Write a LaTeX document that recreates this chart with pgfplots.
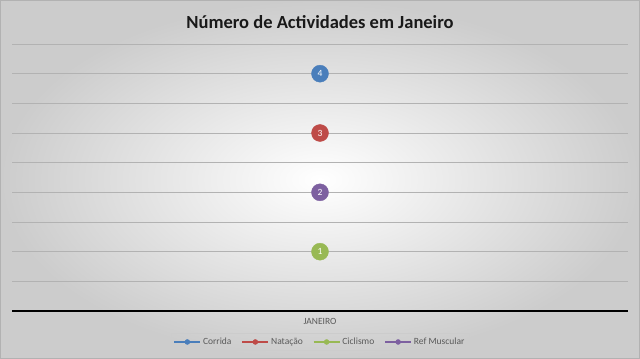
\documentclass[border=0pt]{standalone}
\usepackage{pgfplots}
\pgfplotsset{compat=1.18}
\usepackage{fontspec}
\setmainfont{Carlito}
\definecolor{cblue}{HTML}{4A7EBB}
\definecolor{cred}{HTML}{BE4B48}
\definecolor{cgreen}{HTML}{98B954}
\definecolor{cpurple}{HTML}{7D60A0}
\definecolor{txt}{HTML}{595959}
\begin{document}
\begin{tikzpicture}
\shade[inner color=white, outer color=black!20, shading=radial] (0,0) rectangle (640bp,359bp);
\draw[black!30, line width=0.8bp] (0.4bp,0.4bp) rectangle (639.6bp,358.6bp);
\node[font=\fontsize{18.5bp}{21bp}\selectfont\bfseries, text=black!90] at (320bp,337bp) {Número de Actividades em Janeiro};
\begin{axis}[
  at={(12bp,48bp)}, anchor=south west,
  scale only axis, width=616bp, height=267bp,
  xmin=-1, xmax=1, ymin=0, ymax=4.5,
  xtick={0}, xticklabels={JANEIRO},
  ytick={0,0.5,...,4.5}, yticklabels={},
  major tick length=0pt,
  ymajorgrids, grid style={black!30, line width=0.8bp},
  separate axis lines,
  axis x line*=bottom,
  x axis line style={black, line width=1.3bp, -},
  y axis line style={draw=none},
  tick label style={font=\fontsize{9.5bp}{11bp}\selectfont, text=txt},
  xticklabel style={yshift=-4bp},
  clip=false,
  /pgf/number format/assume math mode=true,
  nodes near coords, every node near coord/.append style={anchor=center, text=white, font=\fontsize{9.5bp}{11bp}\selectfont},
  legend columns=4,
  legend style={at={(0.5,-0.116)}, anchor=center, draw=black!20, fill=none, font=\fontsize{9.5bp}{11bp}\selectfont, text=txt, inner sep=2.5bp, /tikz/every even column/.append style={column sep=8bp}},
  legend image code/.code={\draw[#1, line width=1.6bp] (0bp,0bp) -- (26bp,0bp); \draw[#1, mark size=2.5bp] plot coordinates {(13bp,0bp)};},
]
\addplot[cblue, mark=*, mark size=8.5bp, mark options={draw=cblue, fill=cblue}] coordinates {(0,4)};
\addlegendentry{Corrida}
\addplot[cred, mark=*, mark size=8.5bp, mark options={draw=cred, fill=cred}] coordinates {(0,3)};
\addlegendentry{Natação}
\addplot[cgreen, mark=*, mark size=8.5bp, mark options={draw=cgreen, fill=cgreen}] coordinates {(0,1)};
\addlegendentry{Ciclismo}
\addplot[cpurple, mark=*, mark size=8.5bp, mark options={draw=cpurple, fill=cpurple}] coordinates {(0,2)};
\addlegendentry{Ref Muscular}
\end{axis}
\end{tikzpicture}
\end{document}
